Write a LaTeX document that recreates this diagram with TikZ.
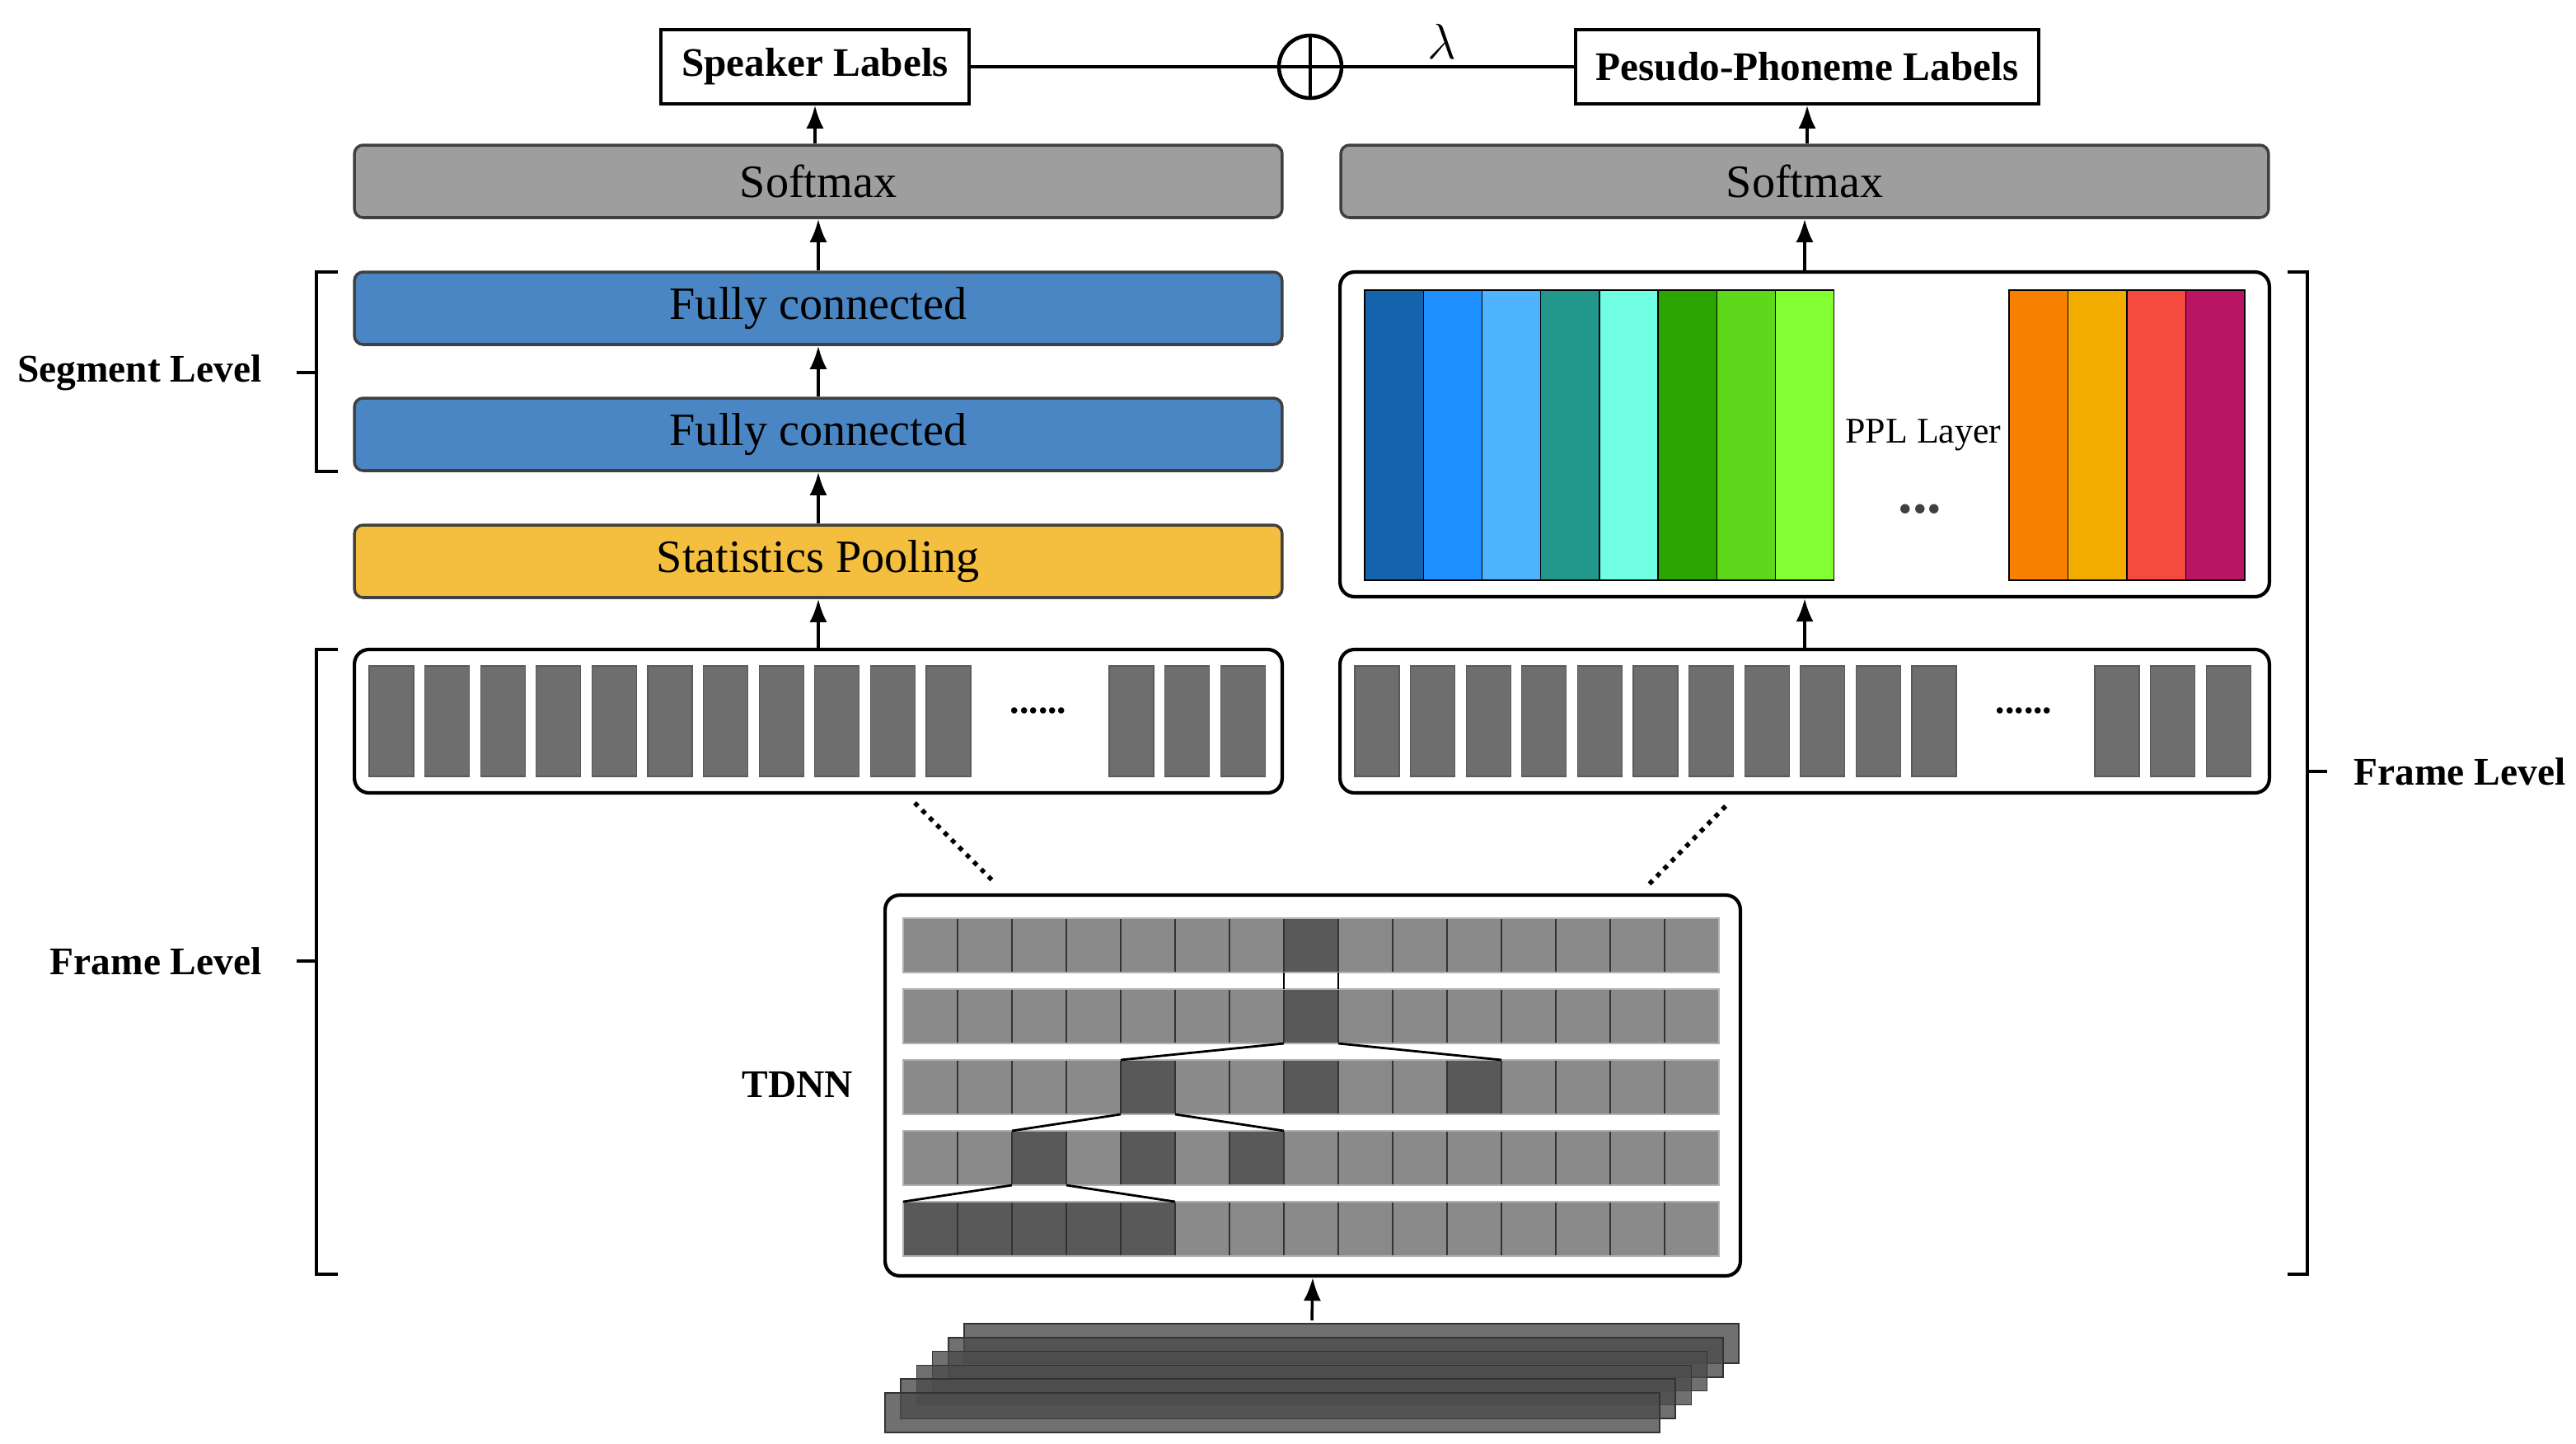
\documentclass[tikz,border=0pt]{standalone}
\usepackage{fontspec}
\setmainfont{Liberation Serif}
\usetikzlibrary{arrows.meta}
\begin{document}
\begin{tikzpicture}[x=0.02cm,y=-0.02cm,
  lbl/.style={draw,line width=1pt,fill=white,font=\fontsize{14}{16}\selectfont\bfseries,minimum height=0.9cm,inner sep=2pt},
  blk/.style={draw=black!75,line width=1pt,rounded corners=3pt,minimum width=11.26cm,minimum height=0.88cm,font=\fontsize{16}{18}\selectfont},
  panel/.style={draw,line width=1.2pt,rounded corners=5pt,fill=white},
  arr/.style={-{Latex[length=8pt,width=6pt]},line width=1pt},
  bar/.style={fill=black!57,draw=black!65,line width=0.3pt},
  side/.style={font=\fontsize{13.5}{16}\selectfont\bfseries},
]
\useasboundingbox (0,0) rectangle (1563,876);
% top labels
\node[lbl,minimum width=3.74cm] (spk) at (494.5,40.5) {Speaker Labels};
\node[lbl,minimum width=5.62cm] (pho) at (1096.5,40.5) {Pesudo-Phoneme Labels};
\node[draw,circle,line width=1.3pt,minimum size=0.76cm,inner sep=0] (plus) at (795,40.5) {};
\draw[line width=1.3pt] (plus.north)--(plus.south) (plus.west)--(plus.east);
\draw[line width=1pt] (spk.east)--(plus.west) (plus.east)--(pho.west);
\node at (875,25) {\fontsize{16}{18}\selectfont$\lambda$};
% blocks
\node[blk,fill=black!38] (smL) at (496.5,110) {Softmax};
\node[blk,fill=black!38] (smR) at (1095,110) {Softmax};
\node[blk,fill={rgb,255:red,74;green,134;blue,196}] (fc1) at (496.5,187) {Fully connected};
\node[blk,fill={rgb,255:red,74;green,134;blue,196}] (fc2) at (496.5,263.5) {Fully connected};
\node[blk,fill={rgb,255:red,244;green,190;blue,62}] (pool) at (496.5,340.5) {Statistics Pooling};
% PPL panel
\node[panel,minimum width=11.28cm,minimum height=3.94cm] (ppl) at (1095,263.5) {};
\foreach \c [count=\i from 0] in {{19,99,173},{30,144,255},{78,180,255},{34,152,140},{112,255,226},{45,165,0},{94,216,26},{130,255,50}}{
  \definecolor{cc}{RGB}{\c}
  \fill[cc] (828+35.6*\i,176) rectangle ++(35.6,176);
  \draw[line width=0.4pt] (828+35.6*\i,176) rectangle ++(35.6,176);}
\foreach \c [count=\i from 0] in {{248,128,0},{242,172,0},{245,75,62},{186,20,100}}{
  \definecolor{cc}{RGB}{\c}
  \fill[cc] (1219+35.75*\i,176) rectangle ++(35.75,176);
  \draw[line width=0.4pt] (1219+35.75*\i,176) rectangle ++(35.75,176);}
\node[font=\fontsize{12.5}{14}\selectfont] (ppltxt) at (1167,264) {PPL Layer};
\node[font=\bfseries\fontsize{20}{20}\selectfont,text=black!75] (pdots) at (1165,309) {...};
% frame panels
\node[panel,minimum width=11.26cm,minimum height=1.74cm] (frL) at (496.5,437.5) {};
\node[panel,minimum width=11.28cm,minimum height=1.74cm] (frR) at (1095,437.5) {};
\foreach \ox/\nm in {0/L,598/R}{
  \foreach \i in {0,...,10}{\draw[bar] (224+\ox+33.8*\i,404) rectangle ++(27,67);}
  \foreach \i in {0,1,2}{\draw[bar] (673+\ox+33.8*\i,404) rectangle ++(27,67);}
  \node[font=\bfseries\fontsize{13}{13}\selectfont] (dots\nm) at (630+\ox,431) {......};
}
% TDNN
\node[panel,minimum width=10.38cm,minimum height=4.62cm] (tdnn) at (796.5,658.5) {};
\node[side] (tdnnlbl) at (484,658) {TDNN};
\foreach \y in {557,600,643,686,729}{
  \foreach \i in {0,...,14}{\fill[black!46] (548+33*\i,\y) rectangle ++(33,33);}}
\foreach \i/\y in {7/557,7/600,4/643,7/643,10/643,2/686,4/686,6/686,0/729,1/729,2/729,3/729,4/729}{
  \fill[black!65] (548+33*\i,\y) rectangle ++(33,33);}
\foreach \y in {557,600,643,686,729}{
  \foreach \i in {1,...,14}{\draw[line width=0.4pt,black!80] (548+33*\i,\y) -- ++(0,33);}
  \draw[line width=0.4pt,black!30] (548,\y) rectangle ++(495,33);}
\draw[line width=0.6pt] (779,590)--(779,600) (812,590)--(812,600);
\draw[line width=0.8pt] (779,633)--(680,643) (812,633)--(911,643);
\draw[line width=0.8pt] (680,676)--(614,686) (713,676)--(779,686);
\draw[line width=0.8pt] (614,719)--(548,729) (647,719)--(713,729);
% input stack
\foreach \k in {5,4,3,2,1,0}{
  \draw[fill=black!70,fill opacity=0.8,draw=black!80,line width=0.5pt] (537+9.6*\k,845-8.4*\k) rectangle ++(470,24);}
\coordinate (inp) at (796,801);
% arrows
\draw[arr] (inp) -- (tdnn.south);
\draw[arr] (frL.north) -- (pool.south);
\draw[arr] (pool.north) -- (fc2.south);
\draw[arr] (fc2.north) -- (fc1.south);
\draw[arr] (fc1.north) -- (smL.south);
\draw[arr] (smL.north -| spk) -- (spk.south);
\draw[arr] (frR.north) -- (ppl.south);
\draw[arr] (ppl.north) -- (smR.south);
\draw[arr] (smR.north -| pho) -- (pho.south);
% dotted
\draw[dotted,line width=1.6pt] (555,487)--(603,535);
\draw[dotted,line width=1.6pt] (1047,489)--(1000,537);
% brackets
\draw[line width=1pt] (205,165)--(192,165)--(192,286)--(205,286) (192,226)--(180,226);
\node[side,anchor=east] (seg) at (165,226) {Segment Level};
\draw[line width=1pt] (205,394)--(192,394)--(192,773)--(205,773) (192,583)--(180,583);
\node[side,anchor=east] (frl) at (165,583) {Frame Level};
\draw[line width=1pt] (1388,165)--(1400,165)--(1400,773)--(1388,773) (1400,468)--(1412,468);
\node[side,anchor=west] (frr) at (1422,468) {Frame Level};
\end{tikzpicture}
\end{document}
